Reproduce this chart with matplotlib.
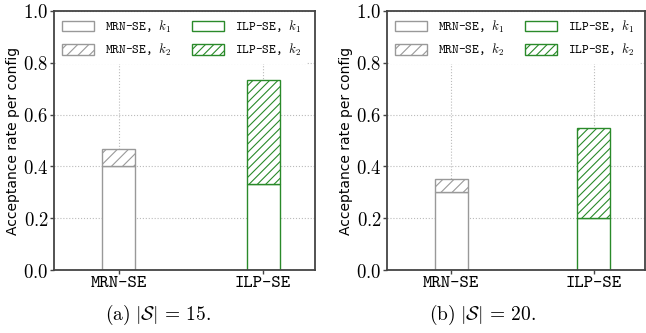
import matplotlib.pyplot as plt
import numpy as np

plt.rcParams['mathtext.fontset'] = 'cm'
plt.rcParams['hatch.linewidth'] = 0.8
plt.rcParams['axes.unicode_minus'] = False

methods = ['MRN-SE', 'ILP-SE']
# stacked values: k1 part, total (k1 + k2)
k1_a = [0.40, 0.333]
total_a = [0.467, 0.733]
k1_b = [0.30, 0.20]
total_b = [0.35, 0.55]
captions = [r'$\mathrm{(a)}\ |\mathcal{S}|\,=\,15.$', r'$\mathrm{(b)}\ |\mathcal{S}|\,=\,20.$']
yticks = [0.0, 0.2, 0.4, 0.6, 0.8, 1.0]

colors = ['#999999', '#2a8a2a']
hatches = ['///', '////']

fig = plt.figure(figsize=(6.46, 3.33), dpi=100)
axes = [fig.add_axes([54/646, 63/333, 261/646, 259/333]),
        fig.add_axes([387/646, 63/333, 258/646, 259/333])]

x = np.arange(len(methods))
w = 0.23
for ax, k1, tot, cap, cx in zip(axes, [k1_a, k1_b], [total_a, total_b], captions, [158, 482]):
    ax.set_axisbelow(True)
    ax.grid(True, linestyle=':', color='#bbbbbb', linewidth=0.8)
    for i in range(len(methods)):
        ax.bar(x[i], k1[i], w, color='white', edgecolor=colors[i], linewidth=1.0,
               label=f'{methods[i]}, $k_1$')
        ax.bar(x[i], tot[i] - k1[i], w, bottom=k1[i], color='white', edgecolor=colors[i],
               hatch=hatches[i], linewidth=1.0, label=f'{methods[i]}, $k_2$')
    ax.set_xlim(-0.45, 1.36)
    ax.set_ylim(0, 1.0)
    ax.set_xticks(x)
    ax.set_xticklabels(methods, family='cmtt10', fontsize=12.8)
    ax.set_yticks(yticks)
    ax.set_yticklabels([f'${t:.1f}$' for t in yticks], fontsize=13.5)
    ax.set_ylabel('Acceptance rate per config', fontsize=10, labelpad=2)
    for s in ax.spines.values():
        s.set_color('#444444')
        s.set_linewidth(1.3)
    ax.tick_params(length=3, width=1, color='#444444', pad=1)
    h, l = ax.get_legend_handles_labels()
    leg = ax.legend(h, l, ncol=2, loc='upper left',
                    frameon=True, fancybox=False, edgecolor='none', framealpha=1,
                    prop={'family': 'cmtt10', 'size': 9.2},
                    handlelength=2.5, handleheight=0.85, handletextpad=0.9,
                    columnspacing=1.6, labelspacing=0.55, borderaxespad=0.15,
                    borderpad=0.45)
    fig.text(cx / 646, 1 - 320 / 333, cap, ha='center', va='baseline', fontsize=14)

fig.savefig('out.png', dpi=100)
